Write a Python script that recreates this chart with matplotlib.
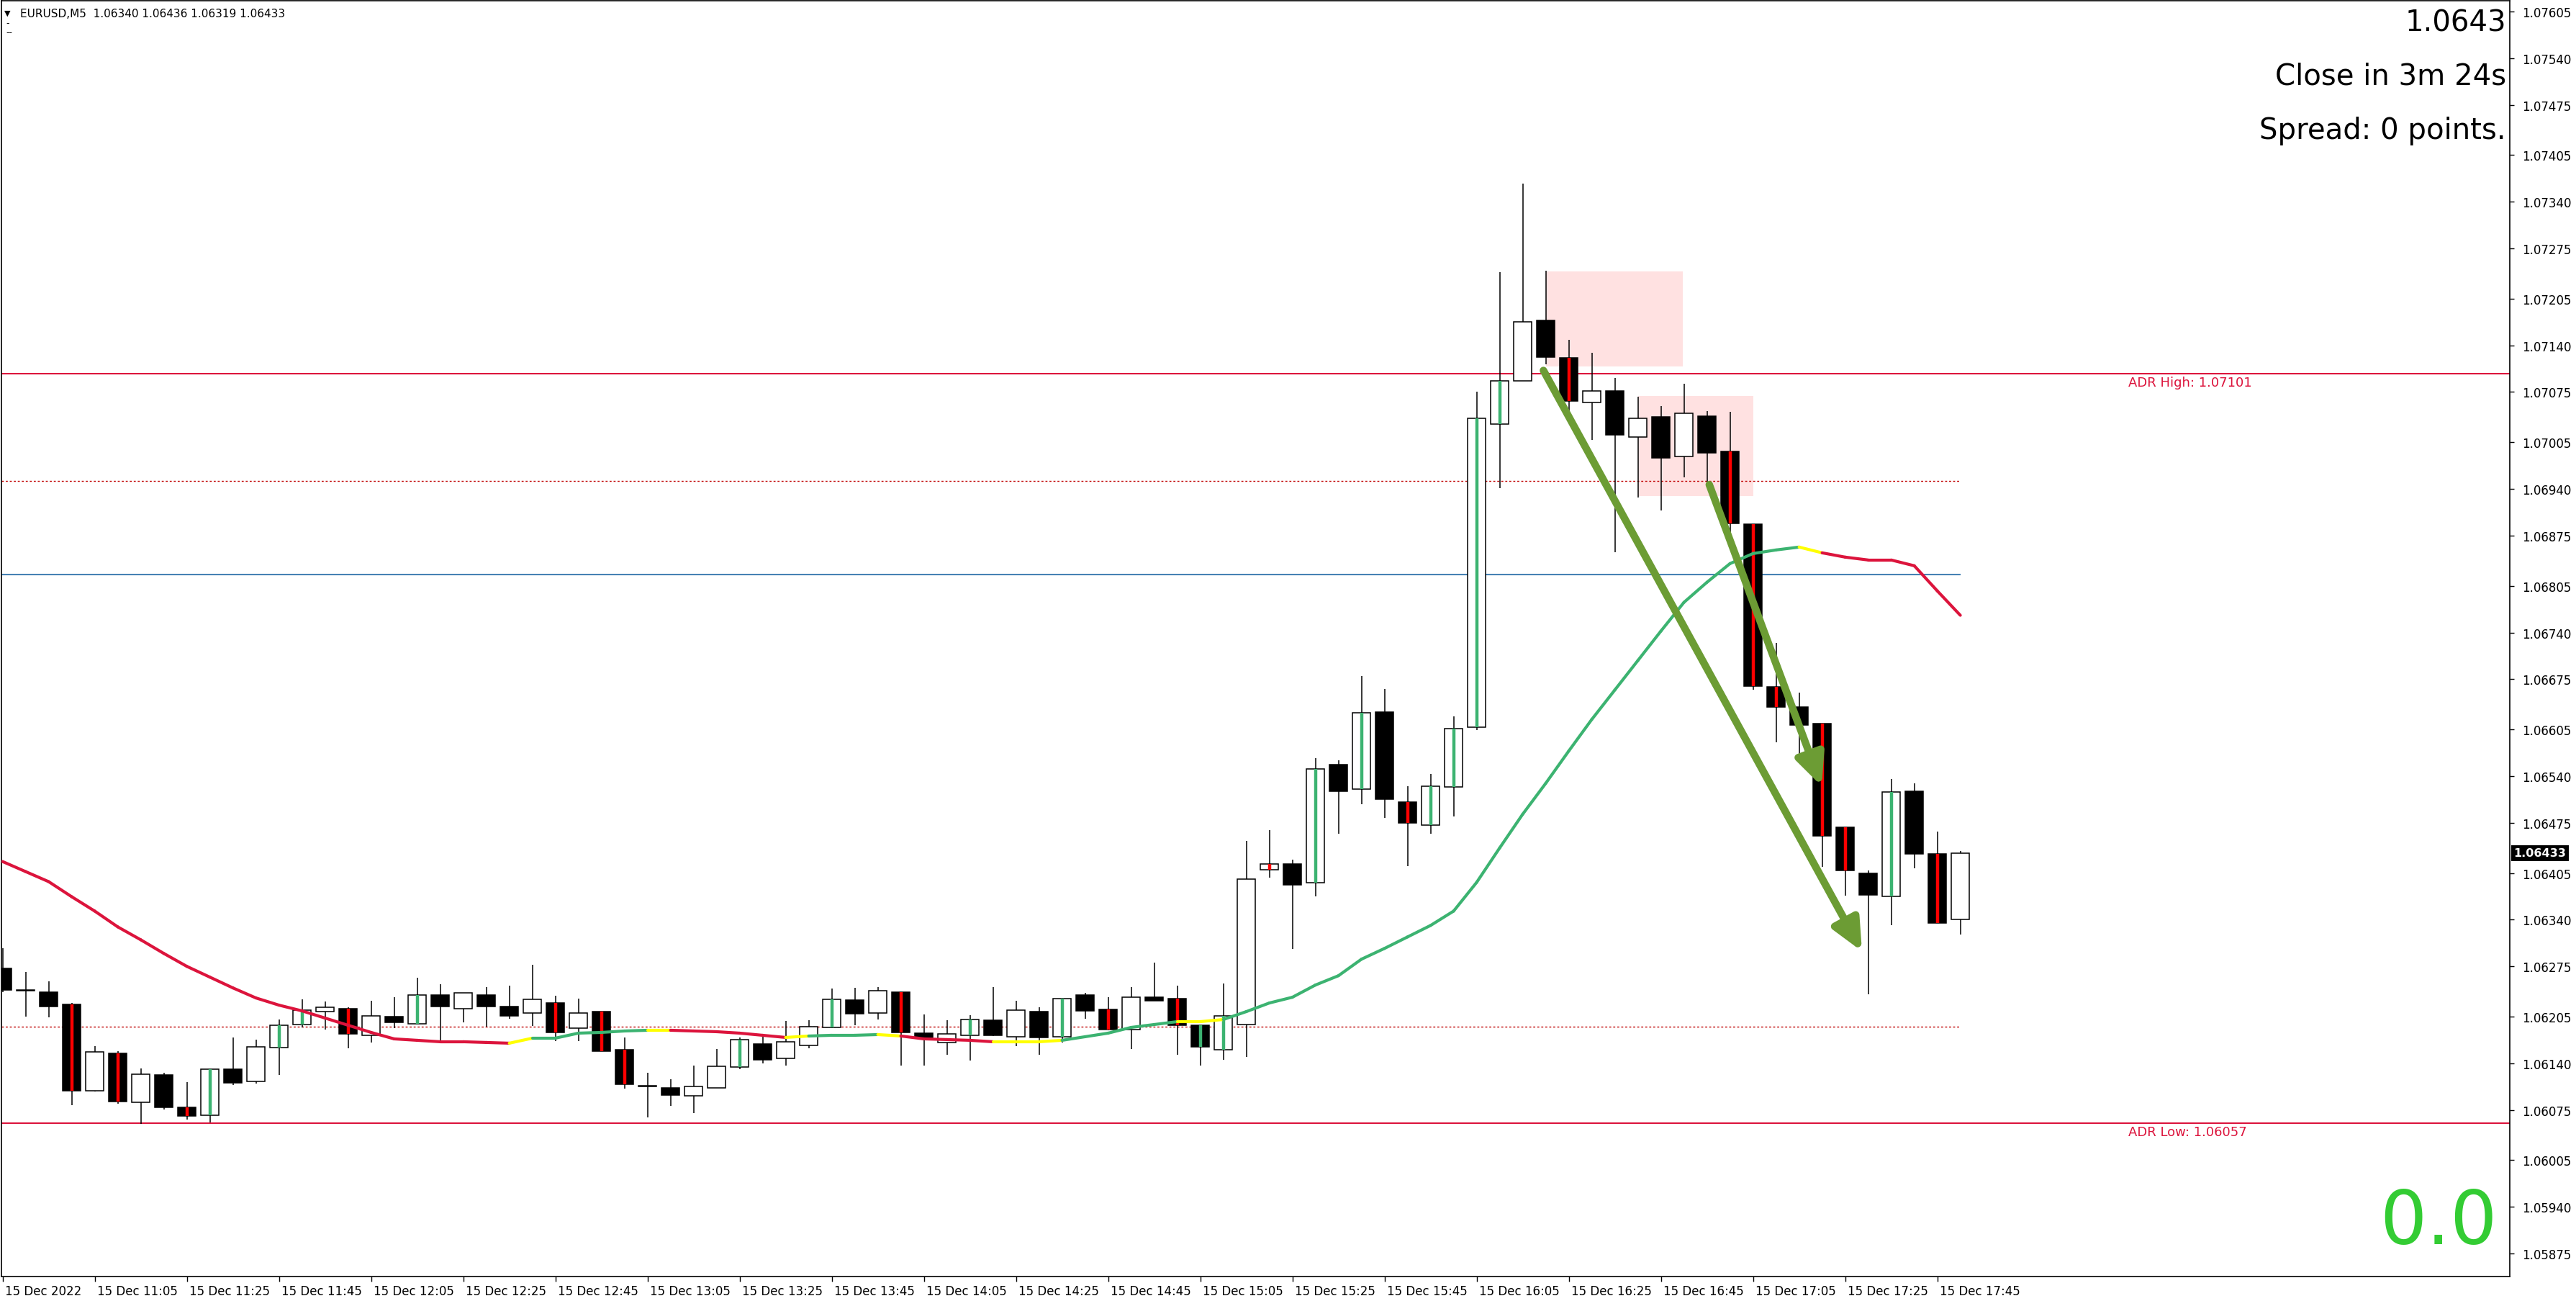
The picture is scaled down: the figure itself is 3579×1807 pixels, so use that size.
import matplotlib
matplotlib.use("Agg")
import matplotlib.pyplot as plt
import matplotlib.transforms as mtransforms
from matplotlib.patches import Rectangle
from matplotlib.collections import LineCollection

plt.rcParams['font.family'] = ['DejaVu Sans']

# EURUSD M5, 15 Dec 2022, bars from 10:45 to 17:50
opens = [1.06272, 1.06242, 1.06239, 1.06222, 1.06102, 1.06154, 1.06086, 1.06124, 1.06079, 1.06068,
         1.06132, 1.06115, 1.06162, 1.06194, 1.06212, 1.06216, 1.06179, 1.06205, 1.06195, 1.06235,
         1.06216, 1.06235, 1.06219, 1.06210, 1.06224, 1.06189, 1.06212, 1.06159, 1.06109, 1.06106,
         1.06095, 1.06106, 1.06135, 1.06167, 1.06147, 1.06165, 1.06190, 1.06228, 1.06210, 1.06239,
         1.06182, 1.06169, 1.06179, 1.06200, 1.06177, 1.06212, 1.06177, 1.06235, 1.06215, 1.06187,
         1.06232, 1.06230, 1.06193, 1.06159, 1.06194, 1.06410, 1.06418, 1.06392, 1.06556, 1.06522,
         1.06629, 1.06504, 1.06472, 1.06525, 1.06608, 1.07030, 1.07091, 1.07175, 1.07123, 1.07060,
         1.07076, 1.07012, 1.07040, 1.06985, 1.07041, 1.06992, 1.06891, 1.06664, 1.06636, 1.06613,
         1.06469, 1.06405, 1.06372, 1.06519, 1.06432, 1.06340]
highs = [1.06300, 1.06267, 1.06254, 1.06224, 1.06164, 1.06157, 1.06133, 1.06127, 1.06114, 1.06132,
         1.06176, 1.06173, 1.06201, 1.06229, 1.06226, 1.06218, 1.06227, 1.06232, 1.06259, 1.06250,
         1.06238, 1.06246, 1.06248, 1.06277, 1.06234, 1.06230, 1.06212, 1.06176, 1.06127, 1.06118,
         1.06137, 1.06160, 1.06176, 1.06177, 1.06199, 1.06200, 1.06244, 1.06245, 1.06246, 1.06239,
         1.06208, 1.06200, 1.06207, 1.06246, 1.06227, 1.06218, 1.06230, 1.06238, 1.06232, 1.06246,
         1.06280, 1.06248, 1.06193, 1.06251, 1.06450, 1.06465, 1.06424, 1.06565, 1.06562, 1.06679,
         1.06661, 1.06526, 1.06543, 1.06623, 1.07075, 1.07242, 1.07365, 1.07244, 1.07148, 1.07130,
         1.07095, 1.07068, 1.07055, 1.07086, 1.07048, 1.07047, 1.06891, 1.06725, 1.06656, 1.06613,
         1.06469, 1.06409, 1.06536, 1.06530, 1.06463, 1.06436]
lows = [1.06239, 1.06205, 1.06204, 1.06082, 1.06101, 1.06084, 1.06056, 1.06076, 1.06062, 1.06058,
        1.06110, 1.06112, 1.06124, 1.06190, 1.06187, 1.06161, 1.06169, 1.06189, 1.06195, 1.06171,
        1.06197, 1.06191, 1.06202, 1.06192, 1.06171, 1.06171, 1.06157, 1.06105, 1.06065, 1.06081,
        1.06071, 1.06106, 1.06132, 1.06140, 1.06137, 1.06161, 1.06189, 1.06193, 1.06201, 1.06137,
        1.06137, 1.06152, 1.06144, 1.06178, 1.06164, 1.06152, 1.06169, 1.06202, 1.06186, 1.06160,
        1.06227, 1.06152, 1.06137, 1.06145, 1.06149, 1.06399, 1.06299, 1.06372, 1.06460, 1.06501,
        1.06482, 1.06415, 1.06460, 1.06484, 1.06604, 1.06941, 1.07091, 1.07114, 1.07047, 1.07008,
        1.06852, 1.06928, 1.06910, 1.06956, 1.06947, 1.06880, 1.06660, 1.06587, 1.06566, 1.06414,
        1.06373, 1.06236, 1.06332, 1.06412, 1.06335, 1.06319]
closes = [1.06242, 1.06241, 1.06219, 1.06102, 1.06156, 1.06087, 1.06125, 1.06079, 1.06067, 1.06132,
          1.06113, 1.06163, 1.06193, 1.06214, 1.06218, 1.06181, 1.06206, 1.06197, 1.06235, 1.06219,
          1.06238, 1.06219, 1.06206, 1.06229, 1.06183, 1.06210, 1.06157, 1.06111, 1.06108, 1.06096,
          1.06108, 1.06136, 1.06173, 1.06145, 1.06170, 1.06191, 1.06229, 1.06209, 1.06241, 1.06183,
          1.06176, 1.06181, 1.06201, 1.06179, 1.06214, 1.06176, 1.06230, 1.06213, 1.06187, 1.06232,
          1.06227, 1.06193, 1.06163, 1.06206, 1.06397, 1.06418, 1.06389, 1.06550, 1.06519, 1.06628,
          1.06508, 1.06475, 1.06526, 1.06606, 1.07038, 1.07091, 1.07173, 1.07124, 1.07062, 1.07076,
          1.07015, 1.07038, 1.06983, 1.07045, 1.06990, 1.06892, 1.06665, 1.06636, 1.06611, 1.06457,
          1.06409, 1.06374, 1.06518, 1.06432, 1.06335, 1.06433]
# body highlight: r = red stripe, g = green stripe, - = none
stripes = "---r-r--rg--gg-r--g-----r-rr----g---g--r--g---g-r--rgg-r-g-g-rgggg--r------rrr-rr-g-r-"

# coloured moving average and colour of each segment (R red, Y yellow, G green)
ma = [1.06421, 1.06407, 1.06393, 1.06372, 1.06352, 1.06330, 1.06312, 1.06293, 1.06275, 1.06260,
      1.06245, 1.06231, 1.06221, 1.06213, 1.06203, 1.06193, 1.06183, 1.06174, 1.06172, 1.06170,
      1.06170, 1.06169, 1.06168, 1.06175, 1.06175, 1.06182, 1.06183, 1.06185, 1.06186, 1.06186,
      1.06185, 1.06184, 1.06182, 1.06179, 1.06176, 1.06178, 1.06179, 1.06179, 1.06180, 1.06178,
      1.06174, 1.06173, 1.06172, 1.06170, 1.06170, 1.06170, 1.06172, 1.06177, 1.06182, 1.06190,
      1.06194, 1.06198, 1.06198, 1.06201, 1.06212, 1.06224, 1.06232, 1.06249, 1.06262, 1.06285,
      1.06300, 1.06316, 1.06332, 1.06352, 1.06392, 1.06440, 1.06487, 1.06530, 1.06575, 1.06619,
      1.06660, 1.06701, 1.06742, 1.06782, 1.06810, 1.06836, 1.06850, 1.06855, 1.06859, 1.06851,
      1.06845, 1.06841, 1.06841, 1.06833, 1.06798, 1.06764]
ma_cols = "R" * 22 + "Y" + "G" * 5 + "Y" + "R" * 5 + "Y" + "G" * 3 + "Y" + "R" * 4 + "YYY" + \
          "G" * 5 + "YY" + "G" * 25 + "Y" + "R" * 6

adr_high = 1.07101
adr_low = 1.06057
blue_level = 1.06821
dotted_levels = [1.06951, 1.06191]

# pink zones: (bar start, bar end, price low, price high)
zones = [(67.0, 72.95, 1.07111, 1.07243), (71.0, 76.0, 1.06930, 1.07069)]
# arrows: (bar from, price from, bar to, price to)
arrows = [(66.9, 1.07105, 80.73, 1.06296), (74.1, 1.06946, 78.98, 1.06526)]

xtick_pos = list(range(0, 85, 4))
xtick_labels = ["15 Dec 2022", "15 Dec 11:05", "15 Dec 11:25", "15 Dec 11:45", "15 Dec 12:05",
                "15 Dec 12:25", "15 Dec 12:45", "15 Dec 13:05", "15 Dec 13:25", "15 Dec 13:45",
                "15 Dec 14:05", "15 Dec 14:25", "15 Dec 14:45", "15 Dec 15:05", "15 Dec 15:25",
                "15 Dec 15:45", "15 Dec 16:05", "15 Dec 16:25", "15 Dec 16:45", "15 Dec 17:05",
                "15 Dec 17:25", "15 Dec 17:45"]
ytick_labels = ["1.07605", "1.07540", "1.07475", "1.07405", "1.07340", "1.07275", "1.07205",
                "1.07140", "1.07075", "1.07005", "1.06940", "1.06875", "1.06805", "1.06740",
                "1.06675", "1.06605", "1.06540", "1.06475", "1.06405", "1.06340", "1.06275",
                "1.06205", "1.06140", "1.06075", "1.06005", "1.05940", "1.05875"]

W, H = 3580, 1808
fig = plt.figure(figsize=(W / 100, H / 100), dpi=100)
fig.patch.set_facecolor('white')
ax = fig.add_axes([2 / W, 1 - 1774 / H, 3485 / W, 1772 / H])
ax.set_xlim(-0.05, -0.05 + 3485 / 32)
ax.set_ylim(1.05843, 1.07620)

for s in ax.spines.values():
    s.set_linewidth(1.2)
    s.set_color('black')

# zones
for x0, x1, p0, p1 in zones:
    ax.add_patch(Rectangle((x0, p0), x1 - x0, p1 - p0, facecolor='#ffe1e1', edgecolor='none', zorder=0.5))

# levels
ax.axhline(adr_high, color='#dc143c', lw=1.5, zorder=1)
ax.axhline(adr_low, color='#dc143c', lw=1.5, zorder=1)
last = len(closes) - 1
ax.hlines(blue_level, -0.05, last, color='#4682b4', lw=1.5, zorder=1)
for lv in dotted_levels:
    ax.hlines(lv, -0.05, last, color='#c00000', lw=1.0, linestyles=(0, (2, 2)), zorder=1)

down = mtransforms.ScaledTranslation(0, -3 / 100, fig.dpi_scale_trans)
ax.text(92.3, adr_high, "ADR High: %.5f" % adr_high, color='#dc143c', fontsize=13,
        va='top', ha='left', transform=ax.transData + down)
ax.text(92.3, adr_low, "ADR Low: %.5f" % adr_low, color='#dc143c', fontsize=13,
        va='top', ha='left', transform=ax.transData + down)

# candles
bw = 0.77
for i in range(len(opens)):
    o, h, l, c = opens[i], highs[i], lows[i], closes[i]
    bull = c > o
    lo, hi = min(o, c), max(o, c)
    ax.vlines(i, l, h, color='black', lw=1.1, zorder=3)
    ax.add_patch(Rectangle((i - bw / 2, lo), bw, hi - lo,
                           facecolor='white' if bull else 'black',
                           edgecolor='black', lw=1.1, zorder=4))
    if stripes[i] == 'r':
        ax.vlines(i, lo, hi, color='#ff0000', lw=3.2, zorder=5)
    elif stripes[i] == 'g':
        ax.vlines(i, lo, hi, color='#3cb371', lw=3.2, zorder=5)

# moving average
col_map = {'R': '#dc143c', 'Y': '#ffff00', 'G': '#3cb371'}
segs = [[(i, ma[i]), (i + 1, ma[i + 1])] for i in range(len(ma) - 1)]
lc = LineCollection(segs, colors=[col_map[k] for k in ma_cols], linewidths=3.0,
                    capstyle='round', zorder=6)
ax.add_collection(lc)

# arrows
for x0, y0, x1, y1 in arrows:
    ax.annotate("", xy=(x1, y1), xytext=(x0, y0),
                arrowprops=dict(arrowstyle='-|>,head_length=2.6,head_width=1.2',
                                color='#6c9c34', lw=7.5, shrinkA=0, shrinkB=0),
                zorder=7)

# axes ticks
ax.yaxis.tick_right()
ax.set_yticks([float(t) for t in ytick_labels])
ax.set_yticklabels(ytick_labels, fontsize=12)
ax.tick_params(axis='y', length=4, width=1, pad=8)
ax.set_xticks(xtick_pos)
ax.set_xticklabels(xtick_labels, fontsize=12)
ax.tick_params(axis='x', length=5, width=1, pad=3)
off = mtransforms.ScaledTranslation(3 / 100, 0, fig.dpi_scale_trans)
for lab in ax.get_xticklabels():
    lab.set_horizontalalignment('left')
    lab.set_transform(lab.get_transform() + off)

# current price tag
tag_tr = mtransforms.blended_transform_factory(ax.transAxes, ax.transData)
ax.text(1.0015, closes[-1], "%.5f" % closes[-1], color='white', fontsize=11.5, fontweight='bold',
        va='center', ha='left', transform=tag_tr, clip_on=False,
        bbox=dict(boxstyle='square,pad=0.22', fc='black', ec='none'), zorder=10)

# header and info texts
fig.text(6 / W, 1 - 19 / H, "\u25bc", fontsize=8, va='center', ha='left')
fig.text(28 / W, 1 - 19 / H, "EURUSD,M5  %.5f %.5f %.5f %.5f" % (opens[-1], highs[-1], lows[-1], closes[-1]),
         fontsize=11, va='center', ha='left')
fig.text(8 / W, 1 - 33 / H, "-", fontsize=9, va='center', ha='left')
fig.text(8 / W, 1 - 46 / H, "--", fontsize=9, va='center', ha='left')

fig.text(3482 / W, 1 - 43 / H, "%.4f" % closes[-1], fontsize=29, ha='right', va='baseline')
fig.text(3482 / W, 1 - 117 / H, "Close in 3m 24s", fontsize=29, ha='right', va='baseline')
fig.text(3482 / W, 1 - 193 / H, "Spread: 0 points.", fontsize=29, ha='right', va='baseline')
fig.text(3470 / W, 1 - 1728 / H, "0.0", fontsize=74, color='#33cc33', ha='right', va='baseline')

fig.savefig("out.png", dpi=100, facecolor='white')
